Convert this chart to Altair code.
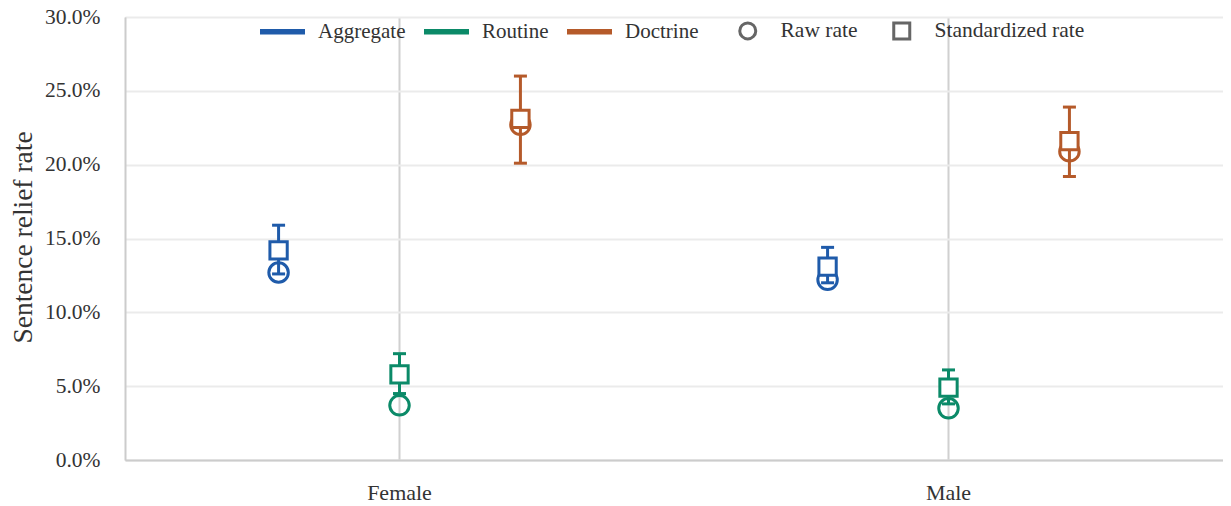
import altair as alt
import pandas as pd

genders = ["Female", "Male"]
series = ["Aggregate", "Routine", "Doctrine"]
colors = ["#1F5BAA", "#0B8A68", "#B55A2A"]

raw_female = [0.127, 0.037, 0.227]
raw_male = [0.122, 0.035, 0.209]
std_female = [0.142, 0.058, 0.231]
std_male = [0.131, 0.049, 0.216]
lo_female = [0.126, 0.045, 0.201]
lo_male = [0.120, 0.038, 0.192]
hi_female = [0.159, 0.072, 0.260]
hi_male = [0.144, 0.061, 0.239]

rows = []
for g, raw, std, lo, hi in [
    ("Female", raw_female, std_female, lo_female, hi_female),
    ("Male", raw_male, std_male, lo_male, hi_male),
]:
    for i, s in enumerate(series):
        rows.append({"gender": g, "series": s, "raw": raw[i], "std": std[i],
                     "lo": lo[i], "hi": hi[i]})
df = pd.DataFrame(rows)

FONT = "Liberation Serif"
TXT = "#333333"

x = alt.X("gender:N", sort=genders, title=None,
          scale=alt.Scale(paddingInner=0, paddingOuter=0),
          axis=alt.Axis(labelAngle=0, ticks=False, grid=True, gridColor="#d0d0d0",
                        gridWidth=2, domainColor="#cccccc", domainWidth=2,
                        labelPadding=22, labelFontSize=22, labelFont=FONT,
                        labelColor=TXT))
xo = alt.XOffset("series:N", sort=series,
                 scale=alt.Scale(type="band", paddingInner=0, paddingOuter=0.77))
color = alt.Color("series:N", sort=series,
                  scale=alt.Scale(domain=series, range=colors),
                  legend=alt.Legend(title=None, orient="none", direction="horizontal",
                                    legendX=132, legendY=-11, symbolType="stroke",
                                    symbolSize=2025, symbolStrokeWidth=5.5,
                                    labelOffset=10, columnPadding=7,
                                    labelFontSize=21, labelFont=FONT,
                                    labelColor=TXT, padding=0))
shape_scale = alt.Scale(domain=["Raw rate", "Standardized rate"], range=["circle", "square"])
shape_legend = alt.Legend(title=None, orient="none", direction="horizontal",
                          legendX=612, legendY=3, symbolSize=256,
                          symbolStrokeColor="#666666", symbolStrokeWidth=3,
                          symbolFillColor="transparent",
                          labelOffset=22, columnPadding=29, labelFontSize=21.5,
                          labelFont=FONT, labelColor=TXT, padding=0)

y_axis = alt.Axis(format=".1%", values=[0, 0.05, 0.1, 0.15, 0.2, 0.25, 0.3],
                  ticks=False, gridColor="#ebebeb", gridWidth=2,
                  domainColor="#cccccc", domainWidth=2, labelPadding=25,
                  labelFontSize=21.5, labelFont=FONT, labelColor=TXT,
                  title="Sentence relief rate", titleFont=FONT, titleFontSize=27.5,
                  titleFontWeight="normal", titleColor=TXT,
                  titleX=-102, titleY=220, titleAngle=-90, titleBaseline="middle",
                  titleAlign="center")
y_scale = alt.Scale(domain=[0, 0.3], nice=False)

base = alt.Chart(df)

circles = base.transform_calculate(measure="'Raw rate'").mark_point(
    filled=False, size=380, strokeWidth=3, opacity=1
).encode(
    x=x, xOffset=xo,
    y=alt.Y("raw:Q", scale=y_scale, axis=y_axis),
    color=color,
    shape=alt.Shape("measure:N", scale=shape_scale, legend=shape_legend),
)

rules = base.mark_rule(strokeWidth=3).encode(
    x=x, xOffset=xo,
    y=alt.Y("lo:Q", scale=y_scale, axis=y_axis), y2="hi:Q",
    color=color,
)

caps = base.transform_fold(["lo", "hi"], as_=["bound", "val"]).mark_tick(
    size=13, thickness=3, opacity=1
).encode(
    x=x, xOffset=xo,
    y=alt.Y("val:Q", scale=y_scale, axis=y_axis),
    color=color,
)

squares = base.transform_calculate(measure="'Standardized rate'").mark_point(
    filled=False, fill="white", fillOpacity=1, size=300, strokeWidth=3, opacity=1
).encode(
    x=x, xOffset=xo,
    y=alt.Y("std:Q", scale=y_scale, axis=y_axis),
    color=color,
    shape=alt.Shape("measure:N", scale=shape_scale, legend=shape_legend),
)

chart = alt.layer(circles, rules, caps, squares).properties(
    width=1098, height=443,
    autosize=alt.AutoSizeParams(type="none"),
    padding={"left": 117, "top": 9, "right": 0, "bottom": 46},
).configure_view(stroke=None).configure(background="white")

chart.save("out.html", embed_options={"renderer": "svg", "actions": False})
